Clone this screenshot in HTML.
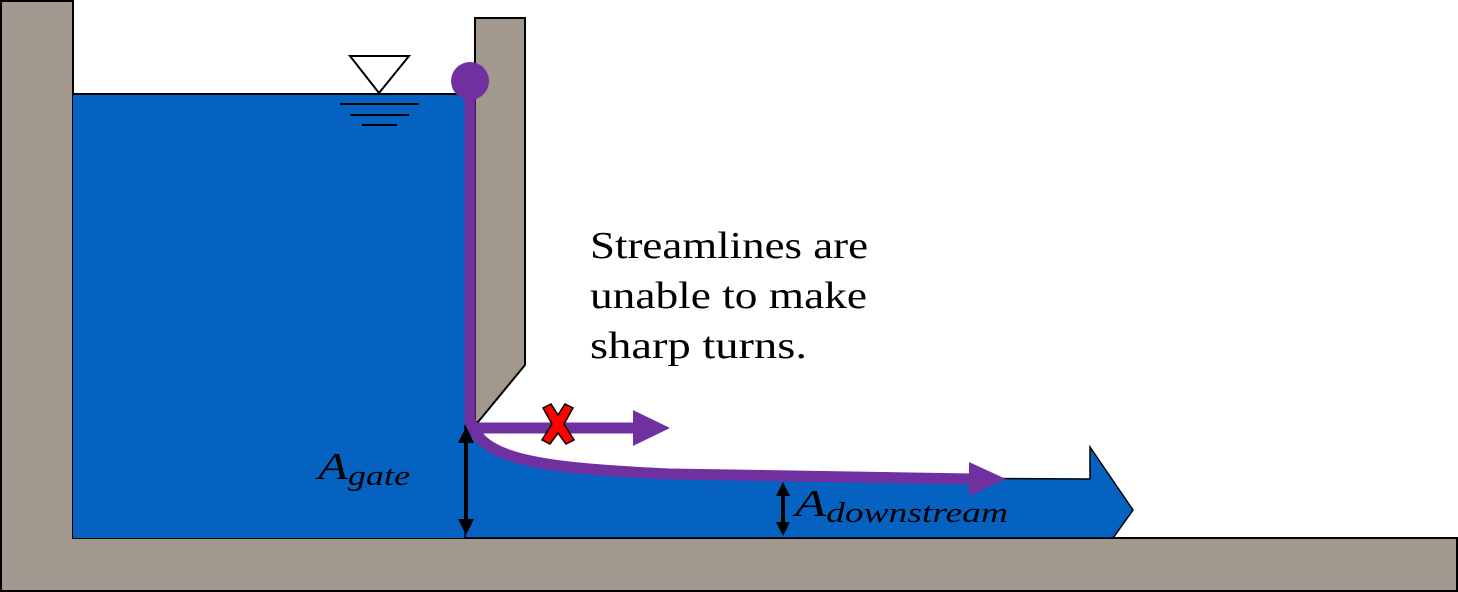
<!DOCTYPE html>
<html><head><meta charset="utf-8"><style>
html,body{margin:0;padding:0;background:#fff}
svg{display:block}
text{font-family:"Liberation Serif",serif;fill:#000}
</style></head><body>
<svg width="1458" height="592" viewBox="0 0 1458 592">
<g>
<path d="M1,1 H73 V538 H1457 V591 H1 Z" fill="#a3988d" stroke="#000" stroke-width="2"/>
<path d="M475,18 H525 V365 L478,422 H475 Z" fill="#a3988d" stroke="#000" stroke-width="2"/>
</g>
<path d="M73,94 H470 V538 H73 Z" fill="#0562c1"/>
<line x1="73" y1="94" x2="470" y2="94" stroke="#000" stroke-width="2"/>
<path d="M465,425 C480,460 540,470 670,477 L1090,479 V447 L1133,510 L1113,538 H465 Z" fill="#0562c1" stroke="#000" stroke-width="1.5"/>
<g stroke="#000" stroke-width="2" fill="#fff">
<path d="M350,56 H409 L379,93 Z"/>
<line x1="340" y1="104" x2="419" y2="104"/>
<line x1="350" y1="115" x2="409" y2="115"/>
<line x1="362" y1="125" x2="397" y2="125"/>
</g>
<g fill="none" stroke="#7030a0" stroke-width="11">
<circle cx="470" cy="81" r="19" fill="#7030a0" stroke="none"/>
<path d="M470,81 V420 Q470,428 480,428 H638"/>
<path d="M470,420 C480,460 540,468 670,474 L972,479"/>
</g>
<path d="M633,410 L670,428 L633,446 Z" fill="#7030a0"/>
<path d="M969,462 L1006,479 L969,496 Z" fill="#7030a0"/>
<path d="M543,408 L551,404 L558,415 L565,404 L573,408 L564,424 L574,440 L566,444 L558,433 L550,444 L542,440 L552,424 Z" fill="#f00" stroke="#000" stroke-width="1.5"/>
<g stroke="#000" fill="#000">
<line x1="466" y1="440" x2="466" y2="522" stroke-width="4"/>
<path d="M458,443 L466,427 L474,443 Z" stroke="none"/>
<path d="M458,519 L466,535 L474,519 Z" stroke="none"/>
</g>
<g stroke="#000" fill="#000">
<line x1="783" y1="492" x2="783" y2="525" stroke-width="4"/>
<path d="M776,496 L783,482 L790,496 Z" stroke="none"/>
<path d="M776,522 L783,536 L790,522 Z" stroke="none"/>
</g>
<text x="318" y="479" font-size="38" font-style="italic" textLength="92" lengthAdjust="spacingAndGlyphs">A<tspan font-size="28" dy="6">gate</tspan></text>
<text x="795" y="516" font-size="38" font-style="italic" textLength="213" lengthAdjust="spacingAndGlyphs">A<tspan font-size="28" dy="6">downstream</tspan></text>
<g font-size="38">
<text x="590" y="258" textLength="278" lengthAdjust="spacingAndGlyphs">Streamlines are</text>
<text x="590" y="308" textLength="277" lengthAdjust="spacingAndGlyphs">unable to make</text>
<text x="590" y="358" textLength="217" lengthAdjust="spacingAndGlyphs">sharp turns.</text>
</g>
</svg>
</body></html>
